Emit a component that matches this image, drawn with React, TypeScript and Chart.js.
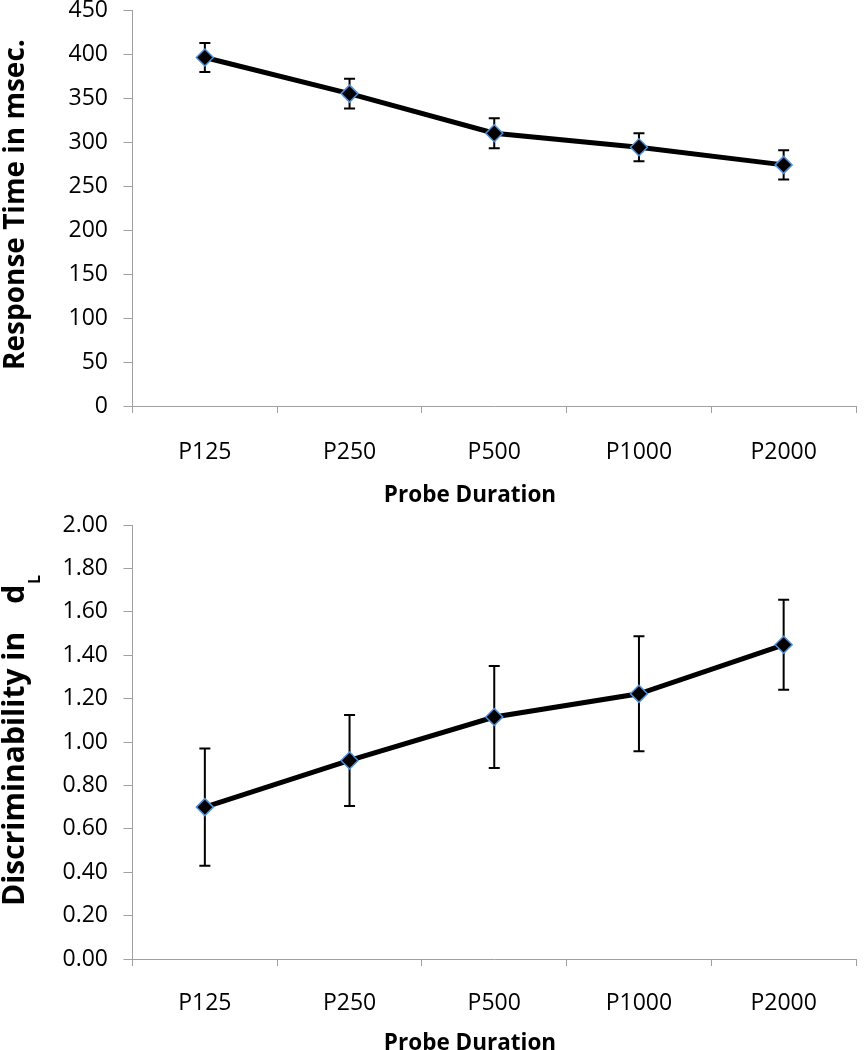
import React, { useEffect, useRef } from "react";
import { Chart, registerables } from "chart.js";

Chart.register(...registerables);

const categories = ["P125", "P250", "P500", "P1000", "P2000"];
const rtValues = [396, 355, 310, 294, 274];
const rtErrors = [16.5, 17, 17, 16, 16.5];
const dlValues = [0.7, 0.915, 1.115, 1.222, 1.448];
const dlErrors = [0.27, 0.21, 0.235, 0.265, 0.207];

const rtTitle = ["Response Time in msec."];
const dlTitle = ["Discriminability in", "d"];
const dlSub = "L";
const xTitle = "Probe Duration";

const AXIS = "#a0a0a0";
const FONT = "'Open Sans', sans-serif";

type Cfg = {
  values: number[];
  errors: number[];
  min: number;
  max: number;
  step: number;
  decimals: number;
  height: number;
  top: number;
  bottom: number;
  xPad: number;
  yTitle: string[];
  yFont: number;
  ySub?: string;
  yTitleStart: number;
  xTitleBaseline: number;
};

function makeChart(canvas: HTMLCanvasElement, c: Cfg) {
  const errorPlugin = {
    id: "errbars",
    beforeDatasetsDraw(chart: any) {
      const ctx = chart.ctx;
      const xs = chart.scales.x;
      const ys = chart.scales.y;
      ctx.save();
      ctx.strokeStyle = "#000";
      ctx.lineWidth = 2;
      c.values.forEach((v, i) => {
        const x = xs.getPixelForValue(i);
        const yT = ys.getPixelForValue(v + c.errors[i]);
        const yB = ys.getPixelForValue(v - c.errors[i]);
        ctx.beginPath();
        ctx.moveTo(x, yT);
        ctx.lineTo(x, yB);
        ctx.moveTo(x - 5.5, yT);
        ctx.lineTo(x + 5.5, yT);
        ctx.moveTo(x - 5.5, yB);
        ctx.lineTo(x + 5.5, yB);
        ctx.stroke();
      });
      ctx.restore();
    },
  };
  const titlePlugin = {
    id: "titles",
    afterDraw(chart: any) {
      const ctx = chart.ctx;
      ctx.save();
      ctx.fillStyle = "#000";
      // x title
      ctx.font = `bold 22.5px ${FONT}`;
      ctx.textAlign = "center";
      ctx.textBaseline = "alphabetic";
      ctx.fillText(xTitle, 470, c.xTitleBaseline);
      // y title (rotated, drawn from its start at the bottom)
      ctx.translate(24, c.yTitleStart);
      ctx.rotate(-Math.PI / 2);
      ctx.textAlign = "left";
      ctx.font = `bold ${c.yFont}px ${FONT}`;
      let pos = 0;
      c.yTitle.forEach((part, i) => {
        if (i > 0) pos += 28;
        ctx.fillText(part, pos, 0);
        pos += ctx.measureText(part).width;
      });
      if (c.ySub) {
        ctx.font = `bold 16px ${FONT}`;
        ctx.fillText(c.ySub, pos + 1, 16);
      }
      ctx.restore();
    },
  };

  return new Chart(canvas, {
    type: "line",
    data: {
      labels: categories,
      datasets: [
        {
          data: c.values,
          borderColor: "#000",
          borderWidth: 5,
          tension: 0,
          pointStyle: "rectRot",
          pointRadius: 8.5,
          pointBackgroundColor: "#000",
          pointBorderColor: "#4f8fdc",
          pointBorderWidth: 1.5,
        },
      ],
    },
    options: {
      responsive: false,
      animation: false,
      events: [],
      layout: { padding: { top: c.top, right: 0.5, left: 0, bottom: 0 } },
      plugins: { legend: { display: false }, tooltip: { enabled: false } },
      scales: {
        x: {
          type: "category",
          offset: true,
          grid: {
            display: true,
            offset: true,
            drawOnChartArea: false,
            drawTicks: true,
            tickLength: 7,
            color: AXIS,
          },
          border: { display: true, color: AXIS, width: 1 },
          ticks: {
            color: "#000",
            font: { family: FONT, size: 23 },
            padding: c.xPad,
            maxRotation: 0,
          },
          afterFit(scale: any) {
            scale.height = c.height - c.bottom;
            scale.paddingLeft = 0;
            scale.paddingRight = 0;
          },
        },
        y: {
          min: c.min,
          max: c.max,
          grid: {
            display: true,
            drawOnChartArea: false,
            drawTicks: true,
            tickLength: 9,
            color: AXIS,
          },
          border: { display: true, color: AXIS, width: 1 },
          ticks: {
            stepSize: c.step,
            color: "#000",
            font: { family: FONT, size: 23 },
            padding: 15.5,
            callback: (v: any) => Number(v).toFixed(c.decimals),
          },
          afterFit(scale: any) {
            scale.width = 132.5;
            scale.paddingTop = 0;
            scale.paddingBottom = 0;
          },
        },
      },
    },
    plugins: [errorPlugin, titlePlugin],
  } as any);
}

export default function App() {
  const topRef = useRef<HTMLCanvasElement>(null);
  const botRef = useRef<HTMLCanvasElement>(null);

  useEffect(() => {
    const a = makeChart(topRef.current!, {
      values: rtValues,
      errors: rtErrors,
      min: 0,
      max: 450,
      step: 50,
      decimals: 0,
      height: 515,
      top: 10,
      bottom: 406,
      xPad: 26,
      yTitle: rtTitle,
      yFont: 28,
      yTitleStart: 370,
      xTitleBaseline: 502,
    });
    const b = makeChart(botRef.current!, {
      values: dlValues,
      errors: dlErrors,
      min: 0,
      max: 2,
      step: 0.2,
      decimals: 2,
      height: 535,
      top: 8,
      bottom: 444,
      xPad: 24,
      yTitle: dlTitle,
      yFont: 30,
      ySub: dlSub,
      yTitleStart: 391,
      xTitleBaseline: 535,
    });
    return () => {
      a.destroy();
      b.destroy();
    };
  }, []);

  return (
    <div
      style={{
        position: "absolute",
        left: 0,
        top: 0,
        width: 866,
        height: 1050,
        background: "#fff",
      }}
    >
      <canvas ref={topRef} width={866} height={515} style={{ display: "block" }} />
      <canvas ref={botRef} width={866} height={535} style={{ display: "block" }} />
    </div>
  );
}
